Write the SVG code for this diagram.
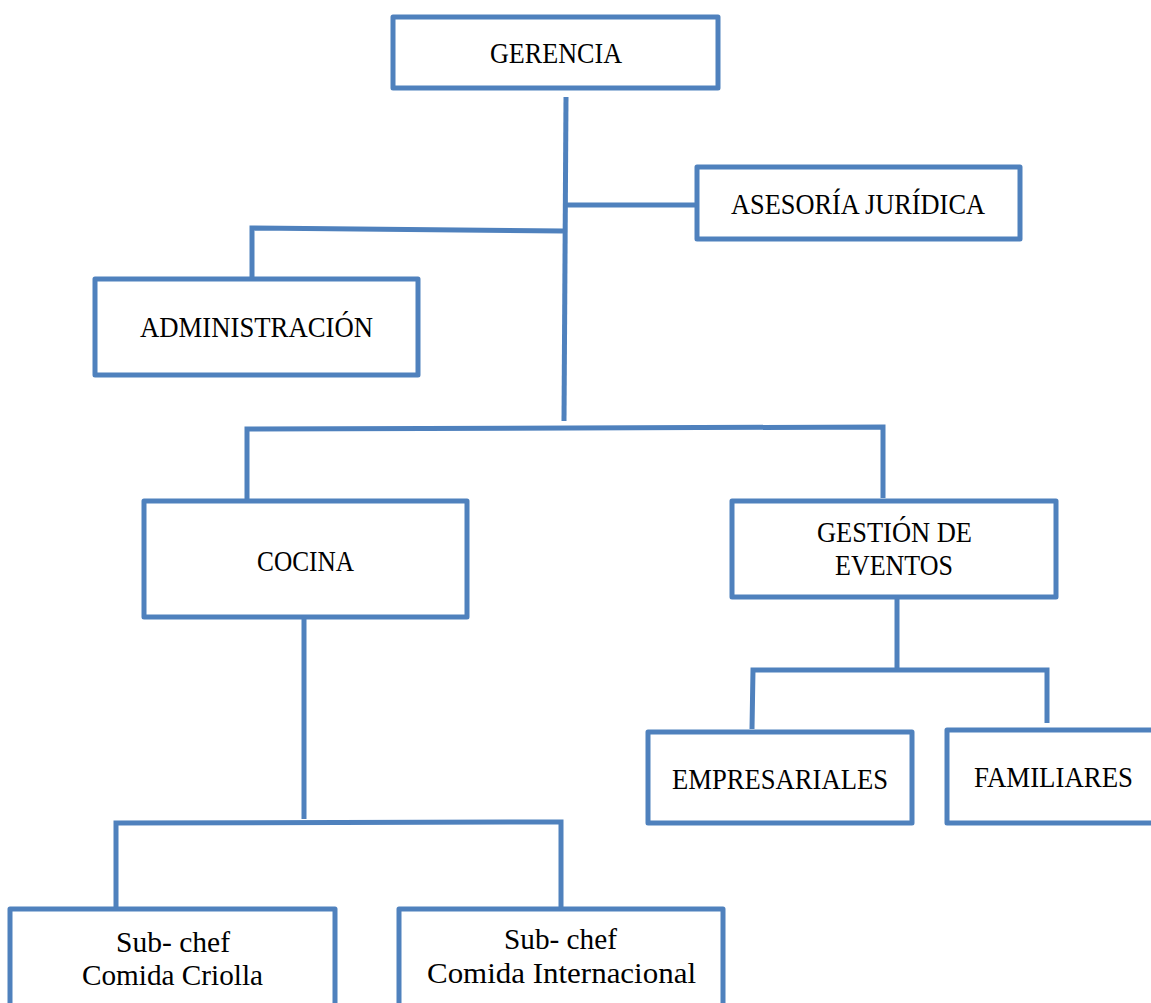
<svg xmlns="http://www.w3.org/2000/svg" width="1151" height="1003" viewBox="0 0 1151 1003">
<style>
.box{fill:#ffffff;stroke:#4F81BD;stroke-width:5;stroke-linejoin:round}
.ln{fill:none;stroke:#4F81BD;stroke-width:5;stroke-linecap:butt}
text{font-family:"Liberation Serif","DejaVu Serif",serif;font-size:29px;fill:#000000}
</style>
<rect width="1151" height="1003" fill="#ffffff"/>
<g id="connectors">
<path class="ln" d="M566,97 L564,421"/>
<path class="ln" d="M567,205 L697,205"/>
<path class="ln" d="M563,231 L252,228 L252,279"/>
<path class="ln" d="M247,501 L247,429 L883,427 L883,498"/>
<path class="ln" d="M304,617 L304,819"/>
<path class="ln" d="M116,909 L116,823 L561,822 L561,909"/>
<path class="ln" d="M897,598 L897,670"/>
<path class="ln" d="M752,729 L753,670 L1047,670 L1047,723"/>
</g>
<g id="gerencia">
<rect class="box" x="393" y="17" width="325" height="71"/>
<text x="490" y="63" textLength="132" lengthAdjust="spacingAndGlyphs">GERENCIA</text>
</g>
<g id="asesoria">
<rect class="box" x="697" y="167" width="323" height="72"/>
<text x="731" y="214" textLength="254" lengthAdjust="spacingAndGlyphs">ASESORÍA JURÍDICA</text>
</g>
<g id="administracion">
<rect class="box" x="95" y="279" width="323" height="96"/>
<text x="140" y="337" textLength="233" lengthAdjust="spacingAndGlyphs">ADMINISTRACIÓN</text>
</g>
<g id="cocina">
<rect class="box" x="144" y="501" width="323" height="116"/>
<text x="257" y="571" textLength="97" lengthAdjust="spacingAndGlyphs">COCINA</text>
</g>
<g id="gestion">
<rect class="box" x="732" y="501" width="324" height="96"/>
<text x="817" y="542" textLength="155" lengthAdjust="spacingAndGlyphs">GESTIÓN DE</text>
<text x="835" y="575" textLength="118" lengthAdjust="spacingAndGlyphs">EVENTOS</text>
</g>
<g id="empresariales">
<rect class="box" x="648" y="732" width="264" height="91"/>
<text x="672" y="789" textLength="216" lengthAdjust="spacingAndGlyphs">EMPRESARIALES</text>
</g>
<g id="familiares">
<rect class="box" x="947" y="730" width="210" height="93"/>
<text x="974" y="787" textLength="159" lengthAdjust="spacingAndGlyphs">FAMILIARES</text>
</g>
<g id="subchef-criolla">
<rect class="box" x="10" y="909" width="325" height="110"/>
<text x="116" y="952" textLength="114" lengthAdjust="spacingAndGlyphs">Sub- chef</text>
<text x="82" y="985" textLength="181" lengthAdjust="spacingAndGlyphs">Comida Criolla</text>
</g>
<g id="subchef-internacional">
<rect class="box" x="399" y="909" width="324" height="110"/>
<text x="504" y="949" textLength="113" lengthAdjust="spacingAndGlyphs">Sub- chef</text>
<text x="427" y="983" textLength="269" lengthAdjust="spacingAndGlyphs">Comida Internacional</text>
</g>
</svg>
